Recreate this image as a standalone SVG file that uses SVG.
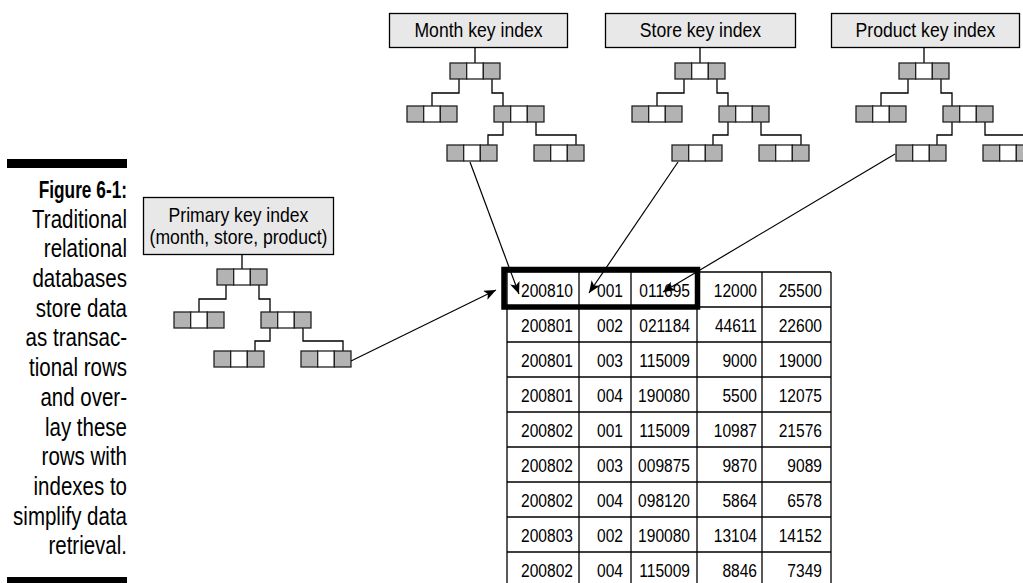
<svg xmlns="http://www.w3.org/2000/svg" xmlns:xlink="http://www.w3.org/1999/xlink" width="1023" height="583" viewBox="0 0 1023 583">
<style>
.lbl{font-family:"Liberation Sans",Arial,sans-serif;font-size:20px;fill:#000;text-anchor:middle}
.cap{font-family:"Liberation Sans",Arial,sans-serif;font-size:25px;fill:#000;text-anchor:end}
.capb{font-family:"Liberation Sans",Arial,sans-serif;font-size:24px;font-weight:bold;fill:#000;text-anchor:end}
.cell{font-family:"Liberation Sans",Arial,sans-serif;font-size:19px;fill:#000;text-anchor:end}
.box{fill:#e8e8e8;stroke:#000;stroke-width:1.3}
.g{fill:#b3b3b3;stroke:#222;stroke-width:1.3}
.w{fill:#fff;stroke:#222;stroke-width:1.3}
.ln{fill:none;stroke:#000;stroke-width:1.3}
.arr{fill:none;stroke:#000;stroke-width:1.2;marker-end:url(#ah)}
.grid{fill:none;stroke:#000;stroke-width:1.3}
</style>
<defs>
<marker id="ah" markerUnits="userSpaceOnUse" markerWidth="13" markerHeight="10" refX="12" refY="5" orient="auto">
<path d="M0,0 L12,5 L0,10 L3,5 z" fill="#000"/>
</marker>
<g id="bn">
<rect class="g" x="0" y="0" width="16.67" height="16"/>
<rect class="w" x="16.67" y="0" width="16.67" height="16"/>
<rect class="g" x="33.33" y="0" width="16.67" height="16"/>
</g>
</defs>
<rect width="1023" height="583" fill="#fff"/>

<g id="caption">
<rect x="7" y="159" width="120" height="9" fill="#000"/>
<text class="capb" transform="translate(127,198) scale(0.72,1)">Figure 6-1:</text>
<g transform="scale(0.82,1)">
<text class="cap" x="154.9" y="227.7">Traditional</text>
<text class="cap" x="154.9" y="257.4">relational</text>
<text class="cap" x="154.9" y="287.1">databases</text>
<text class="cap" x="154.9" y="316.8">store data</text>
<text class="cap" x="154.9" y="346.5">as transac-</text>
<text class="cap" x="154.9" y="376.2">tional rows</text>
<text class="cap" x="154.9" y="405.9">and over-</text>
<text class="cap" x="154.9" y="435.6">lay these</text>
<text class="cap" x="154.9" y="465.3">rows with</text>
<text class="cap" x="154.9" y="495">indexes to</text>
<text class="cap" x="154.9" y="524.7">simplify data</text>
<text class="cap" x="154.9" y="554.4">retrieval.</text>
</g>
<rect x="7" y="577" width="120" height="6" fill="#000"/>
</g>

<g id="month-index">
<rect class="box" x="389.5" y="13.5" width="178" height="34"/>
<text class="lbl" transform="translate(478.5,37) scale(0.88,1)">Month key index</text>
<path class="ln" d="M475,47.5 V63 M459,79 V93 H432 V106 M492,79 V93 H503 V106 M503,122 V135 H488 V145 M536,122 V135 H576 V145"/>
<use xlink:href="#bn" x="450" y="63"/>
<use xlink:href="#bn" x="407" y="106"/>
<use xlink:href="#bn" x="494" y="106"/>
<use xlink:href="#bn" x="447" y="145"/>
<use xlink:href="#bn" x="534" y="145"/>
</g>

<g id="store-index">
<rect class="box" x="605.5" y="13.5" width="190" height="34"/>
<text class="lbl" transform="translate(700.5,37) scale(0.88,1)">Store key index</text>
<path class="ln" d="M700,47.5 V63 M684,79 V93 H657 V106 M717,79 V93 H728 V106 M728,122 V135 H713 V145 M761,122 V135 H801 V145"/>
<use xlink:href="#bn" x="675" y="63"/>
<use xlink:href="#bn" x="632" y="106"/>
<use xlink:href="#bn" x="719" y="106"/>
<use xlink:href="#bn" x="672" y="145"/>
<use xlink:href="#bn" x="759" y="145"/>
</g>

<g id="product-index">
<rect class="box" x="831.5" y="13.5" width="188" height="34"/>
<text class="lbl" transform="translate(925.5,37) scale(0.88,1)">Product key index</text>
<path class="ln" d="M924,47.5 V63 M908,79 V93 H881 V106 M941,79 V93 H952 V106 M952,122 V135 H937 V145 M985,122 V135 H1025 V145"/>
<use xlink:href="#bn" x="899" y="63"/>
<use xlink:href="#bn" x="856" y="106"/>
<use xlink:href="#bn" x="943" y="106"/>
<use xlink:href="#bn" x="896" y="145"/>
<use xlink:href="#bn" x="983" y="145"/>
</g>

<g id="primary-index">
<rect class="box" x="143.5" y="197.5" width="190" height="57"/>
<text class="lbl" transform="translate(238.5,222) scale(0.88,1)">Primary key index</text>
<text class="lbl" transform="translate(238.5,244) scale(0.88,1)">(month, store, product)</text>
<path class="ln" d="M242,254.5 V269 M226,285 V299 H199 V312 M259,285 V299 H270 V312 M270,328 V341 H255 V351 M303,328 V341 H343 V351"/>
<use xlink:href="#bn" x="217" y="269"/>
<use xlink:href="#bn" x="174" y="312"/>
<use xlink:href="#bn" x="261" y="312"/>
<use xlink:href="#bn" x="214" y="351"/>
<use xlink:href="#bn" x="301" y="351"/>
</g>

<g id="fact-table">
<path class="grid" d="M507,272 V590 M579,272 V590 M631,272 V590 M697,272 V590 M762,272 V590 M831,272 V590
M507,272 H831 M507,307 H831 M507,342 H831 M507,377 H831 M507,412 H831 M507,447 H831 M507,482 H831 M507,517 H831 M507,552 H831 M507,587 H831"/>
<g transform="scale(0.82,1)">
<text class="cell" x="698.8" y="297">200810</text><text class="cell" x="759.8" y="297">001</text><text class="cell" x="841.5" y="297">011695</text><text class="cell" x="923.2" y="297">12000</text><text class="cell" x="1002.4" y="297">25500</text>
<text class="cell" x="698.8" y="332">200801</text><text class="cell" x="759.8" y="332">002</text><text class="cell" x="841.5" y="332">021184</text><text class="cell" x="923.2" y="332">44611</text><text class="cell" x="1002.4" y="332">22600</text>
<text class="cell" x="698.8" y="367">200801</text><text class="cell" x="759.8" y="367">003</text><text class="cell" x="841.5" y="367">115009</text><text class="cell" x="923.2" y="367">9000</text><text class="cell" x="1002.4" y="367">19000</text>
<text class="cell" x="698.8" y="402">200801</text><text class="cell" x="759.8" y="402">004</text><text class="cell" x="841.5" y="402">190080</text><text class="cell" x="923.2" y="402">5500</text><text class="cell" x="1002.4" y="402">12075</text>
<text class="cell" x="698.8" y="437">200802</text><text class="cell" x="759.8" y="437">001</text><text class="cell" x="841.5" y="437">115009</text><text class="cell" x="923.2" y="437">10987</text><text class="cell" x="1002.4" y="437">21576</text>
<text class="cell" x="698.8" y="472">200802</text><text class="cell" x="759.8" y="472">003</text><text class="cell" x="841.5" y="472">009875</text><text class="cell" x="923.2" y="472">9870</text><text class="cell" x="1002.4" y="472">9089</text>
<text class="cell" x="698.8" y="507">200802</text><text class="cell" x="759.8" y="507">004</text><text class="cell" x="841.5" y="507">098120</text><text class="cell" x="923.2" y="507">5864</text><text class="cell" x="1002.4" y="507">6578</text>
<text class="cell" x="698.8" y="542">200803</text><text class="cell" x="759.8" y="542">002</text><text class="cell" x="841.5" y="542">190080</text><text class="cell" x="923.2" y="542">13104</text><text class="cell" x="1002.4" y="542">14152</text>
<text class="cell" x="698.8" y="577">200802</text><text class="cell" x="759.8" y="577">004</text><text class="cell" x="841.5" y="577">115009</text><text class="cell" x="923.2" y="577">8846</text><text class="cell" x="1002.4" y="577">7349</text>
</g>
<rect x="504" y="269.5" width="193.5" height="37.5" fill="none" stroke="#000" stroke-width="5.5"/>
</g>

<g id="connectors">
<line class="arr" x1="470" y1="162" x2="519" y2="294"/>
<line class="arr" x1="678" y1="162" x2="589" y2="293"/>
<line class="arr" x1="895" y1="154" x2="663" y2="292"/>
<line class="arr" x1="351" y1="361" x2="496" y2="290"/>
</g>
</svg>
